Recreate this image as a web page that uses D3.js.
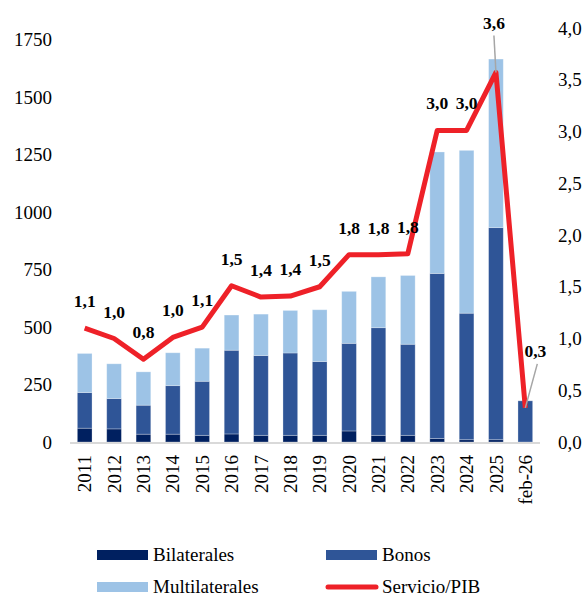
<html lang="es">
<head>
<meta charset="UTF-8">
<title>Servicio de deuda</title>
<script src="https://d3js.org/d3.v7.min.js"></script>
<style>
  body { margin: 0; background: #fff; }
  text { font-family: "Liberation Serif", "Times New Roman", serif; fill: #000; }
</style>
</head>
<body>
<div id="chart"></div>
<script>
var categorias = ["2011","2012","2013","2014","2015","2016","2017","2018","2019","2020","2021","2022","2023","2024","2025","feb-26"];
var bilaterales = [60, 57, 34, 34, 29, 35, 29, 29, 29, 48, 29, 29, 15, 10, 10, 0];
var bonos = [155, 132, 126, 211, 235, 364, 347, 358, 321, 381, 468, 396, 718, 550, 922, 179];
var multilaterales = [170, 151, 145, 143, 144, 153, 180, 185, 225, 226, 221, 299, 528, 708, 733, 0];
var servicioPIB = [1.10, 1.00, 0.80, 1.01, 1.11, 1.51, 1.40, 1.41, 1.50, 1.81, 1.81, 1.82, 3.01, 3.01, 3.57, 0.33];
var ticksIzq = [0, 250, 500, 750, 1000, 1250, 1500, 1750];
var ticksDer = [0, 0.5, 1, 1.5, 2, 2.5, 3, 3.5, 4];

var width = 587, height = 597;
var mLeft = 70, mRight = 540, mTop = 28, mBottom = 442;

var es = d3.formatLocale({decimal: ",", thousands: ".", grouping: [3], currency: ["", ""]});
var fmt1 = es.format(".1f");

var svg = d3.select("#chart").append("svg")
    .attr("width", width)
    .attr("height", height);

var x = d3.scaleBand().domain(categorias).range([mLeft, mRight])
    .paddingInner(0.5).paddingOuter(0.25);
var yL = d3.scaleLinear().domain([0, 1800]).range([mBottom, mTop]);
var yR = d3.scaleLinear().domain([0, 4]).range([mBottom, mTop]);

var series = [
    {name: "Bilaterales", values: bilaterales, color: "#002060"},
    {name: "Bonos", values: bonos, color: "#2F5597"},
    {name: "Multilaterales", values: multilaterales, color: "#9DC3E6"}
];

var tabla = categorias.map(function(c, i) {
    return {cat: c, Bilaterales: bilaterales[i], Bonos: bonos[i], Multilaterales: multilaterales[i]};
});
var stack = d3.stack().keys(series.map(function(s) { return s.name; }))(tabla);

// bars
svg.append("g").selectAll("g")
    .data(stack)
    .enter().append("g")
    .attr("fill", function(d, i) { return series[i].color; })
    .selectAll("rect")
    .data(function(d) { return d; })
    .enter().append("rect")
    .attr("x", function(d) { return x(d.data.cat); })
    .attr("y", function(d) { return yL(d[1]); })
    .attr("width", x.bandwidth())
    .attr("height", function(d) { return yL(d[0]) - yL(d[1]); })
    .attr("stroke", "#ffffff")
    .attr("stroke-opacity", 0.35)
    .attr("stroke-width", 0.8);

// base line
svg.append("line")
    .attr("x1", mLeft).attr("x2", mRight)
    .attr("y1", mBottom + 1).attr("y2", mBottom + 1)
    .attr("stroke", "#d9d9d9").attr("stroke-width", 2);

// left axis
var axL = svg.append("g")
    .attr("transform", "translate(" + (mLeft - 18) + ",0)")
    .call(d3.axisLeft(yL).tickValues(ticksIzq).tickSize(0).tickPadding(0).tickFormat(d3.format("d")));
axL.select(".domain").remove();
axL.selectAll("text").style("font-size", "19px").style("font-family", "Liberation Serif");

// right axis
var axR = svg.append("g")
    .attr("transform", "translate(" + (mRight + 18) + ",0)")
    .call(d3.axisRight(yR).tickValues(ticksDer).tickSize(0).tickPadding(0).tickFormat(fmt1));
axR.select(".domain").remove();
axR.selectAll("text").style("font-size", "19px").style("font-family", "Liberation Serif");

// x axis labels
var axX = svg.append("g")
    .attr("transform", "translate(0," + mBottom + ")")
    .call(d3.axisBottom(x).tickSize(0).tickPadding(0));
axX.select(".domain").remove();
axX.selectAll("text")
    .style("font-size", "19px").style("font-family", "Liberation Serif")
    .attr("transform", "rotate(-90)")
    .attr("text-anchor", "end")
    .attr("x", -13)
    .attr("y", 0)
    .attr("dy", "0.35em");

// line
var cx = function(i) { return x(categorias[i]) + x.bandwidth() / 2; };
var linea = d3.line()
    .x(function(d, i) { return cx(i); })
    .y(function(d) { return yR(d); });

svg.append("path")
    .datum(servicioPIB)
    .attr("fill", "none")
    .attr("stroke", "#EE2128")
    .attr("stroke-width", 5)
    .attr("stroke-linejoin", "round")
    .attr("d", linea);

// data labels (the last two use a leader line)
var desplaz = {14: {dx: -2, dy: -44}, 15: {dx: 10, dy: -51}};
var etiquetas = svg.append("g");
servicioPIB.forEach(function(v, i) {
    var px = cx(i), py = yR(v);
    var o = desplaz[i];
    var tx = px, ty = py - 21;
    if (o) {
        tx = px + o.dx; ty = py + o.dy;
        etiquetas.append("line")
            .attr("x1", px).attr("y1", py)
            .attr("x2", tx + (i === 15 ? 2 : 0)).attr("y2", ty + 7)
            .attr("stroke", "#a6a6a6").attr("stroke-width", 1.5);
    }
    etiquetas.append("text")
        .attr("x", tx).attr("y", ty)
        .attr("text-anchor", "middle")
        .style("font-size", "17.5px")
        .style("font-weight", "bold")
        .text(fmt1(v));
});

// legend
var leyenda = [
    {name: "Bilaterales", color: "#002060", tipo: "rect", x: 97, y: 555},
    {name: "Bonos", color: "#2F5597", tipo: "rect", x: 326, y: 555},
    {name: "Multilaterales", color: "#9DC3E6", tipo: "rect", x: 97, y: 587},
    {name: "Servicio/PIB", color: "#EE2128", tipo: "line", x: 326, y: 587}
];
var lg = svg.append("g").selectAll("g").data(leyenda).enter().append("g")
    .attr("transform", function(d) { return "translate(" + d.x + "," + d.y + ")"; });
lg.each(function(d) {
    var g = d3.select(this);
    if (d.tipo === "rect") {
        g.append("rect").attr("x", 0).attr("y", -5).attr("width", 51).attr("height", 10).attr("fill", d.color);
    } else {
        g.append("line").attr("x1", 2).attr("x2", 50).attr("y1", 0).attr("y2", 0)
            .attr("stroke", d.color).attr("stroke-width", 5).attr("stroke-linecap", "round");
    }
    g.append("text").attr("x", 56).attr("y", 0).attr("dy", "0.33em")
        .style("font-size", "19px").text(d.name);
});
</script>
</body>
</html>
